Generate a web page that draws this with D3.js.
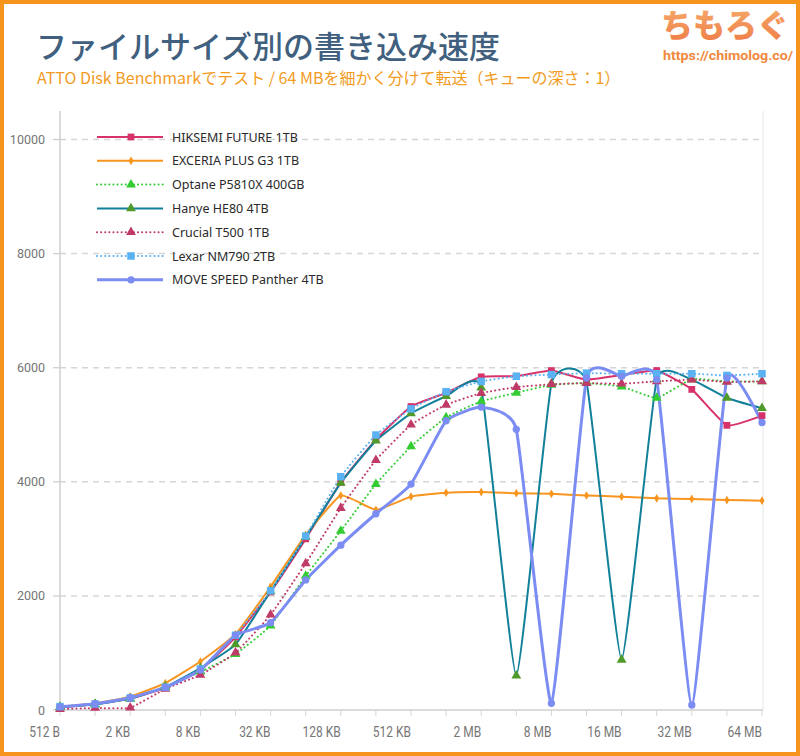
<!DOCTYPE html>
<html><head><meta charset="utf-8">
<script src="https://cdn.jsdelivr.net/npm/d3@7"></script>
<style>body{margin:0;background:#fff}svg{display:block}</style>
</head><body>
<svg id="c" width="800" height="756"></svg>
<script>
const categories = ["512 B","1 KB","2 KB","4 KB","8 KB","16 KB","32 KB","64 KB","128 KB","256 KB","512 KB","1 MB","2 MB","4 MB","8 MB","12 MB","16 MB","24 MB","32 MB","48 MB","64 MB"];
const tickLabels = ["512 B","2 KB","8 KB","32 KB","128 KB","512 KB","2 MB","8 MB","16 MB","32 MB","64 MB"];
const yTicks = [0,2000,4000,6000,8000,10000];
const seriesNames = ["HIKSEMI FUTURE 1TB","EXCERIA PLUS G3 1TB","Optane P5810X 400GB","Hanye HE80 4TB","Crucial T500 1TB","Lexar NM790 2TB","MOVE SPEED Panther 4TB"];
const hiksemi = [45,100,200,390,700,1280,2070,3000,3990,4740,5320,5560,5840,5850,5950,5790,5870,5950,5620,4990,5160];
const exceria = [60,115,235,470,850,1330,2160,3070,3760,3510,3740,3810,3820,3800,3790,3760,3740,3710,3700,3680,3670];
const optane  = [50,100,200,410,670,980,1480,2350,3140,3960,4620,5130,5410,5560,5700,5730,5670,5470,5800,5760,5760];
const hanye   = [50,100,200,400,735,1150,2080,3030,3980,4720,5200,5500,5650,600,5720,5750,880,5800,5790,5470,5290];
const crucial = [15,35,40,370,615,1005,1670,2570,3540,4380,5000,5350,5555,5660,5710,5730,5720,5760,5790,5750,5760];
const lexar   = [60,105,210,400,720,1310,2090,3050,4090,4820,5280,5580,5760,5850,5880,5905,5895,5895,5895,5865,5895];
const move    = [55,110,215,395,700,1310,1530,2280,2890,3440,3960,5070,5310,4920,117,5820,5850,5790,88,5820,5040];

const seriesValues = [hiksemi, exceria, optane, hanye, crucial, lexar, move];
const styles = [
  {line:"#d7336a", mark:"#d7336a", w:2, dash:null, sym:d3.symbolSquare, size:46},
  {line:"#f7951e", mark:"#f7951e", w:2, dash:null, sym:d3.symbolDiamond, size:22},
  {line:"#33cc33", mark:"#33cc33", w:2, dash:"0.1,4", sym:d3.symbolTriangle, size:42},
  {line:"#12809a", mark:"#4f9a2a", w:2, dash:null, sym:d3.symbolTriangle, size:42},
  {line:"#bf3a66", mark:"#bf3a66", w:2, dash:"0.1,4", sym:d3.symbolTriangle, size:42},
  {line:"#5ab2f2", mark:"#5ab2f2", w:2, dash:"0.1,4", sym:d3.symbolSquare, size:56},
  {line:"#7b8cf2", mark:"#7b8cf2", w:3, dash:null, sym:d3.symbolCircle, size:42}
];

(function(){
const svg = d3.select("#c");
const W = 800, H = 756;
const pLeft = 60, pRight = 762, pTop = 111, pBottom = 710;

svg.append("rect").attr("x",2).attr("y",2).attr("width",W-4).attr("height",H-4)
  .attr("fill","#fff").attr("stroke","#f7941d").attr("stroke-width",4);

// Title
svg.append("text").attr("x",36).attr("y",58)
  .attr("font-family","'Noto Sans CJK JP'").attr("font-weight",500)
  .attr("font-size",31).attr("fill","#415f7e")
  .text("ファイルサイズ別の書き込み速度");
svg.append("text").attr("x",37).attr("y",84)
  .attr("font-family","'Noto Sans CJK JP'").attr("font-size",16).attr("fill","#f29b1f")
  .text("ATTO Disk Benchmarkでテスト / 64 MBを細かく分けて転送（キューの深さ：1）");

// Logo
const grad = svg.append("defs").append("linearGradient").attr("id","lg").attr("x1",0).attr("y1",0).attr("x2",0).attr("y2",1);
grad.append("stop").attr("offset","0%").attr("stop-color","#f7b070");
grad.append("stop").attr("offset","100%").attr("stop-color","#ee7a45");
svg.append("text").attr("x",725).attr("y",37).attr("text-anchor","middle")
  .attr("font-family","'Noto Sans CJK JP'").attr("font-weight",900).attr("font-size",32)
  .attr("fill","url(#lg)").text("ちもろぐ");
svg.append("text").attr("x",663).attr("y",60)
  .attr("font-family","Roboto").attr("font-weight",700).attr("font-size",13.5)
  .attr("textLength",130).attr("lengthAdjust","spacingAndGlyphs")
  .attr("fill","#f0883e").text("https://chimolog.co/");

const x = d3.scalePoint().domain(categories).range([pLeft, pRight]);
const y = d3.scaleLinear().domain([0, 10500]).range([pBottom, pTop]);

// grid
const g = svg.append("g");
g.selectAll("line.grid").data(yTicks.filter(d=>d>0)).join("line")
  .attr("x1",pLeft).attr("x2",pRight).attr("y1",d=>y(d)).attr("y2",d=>y(d))
  .attr("stroke","#d6d6d6").attr("stroke-width",1.5).attr("stroke-dasharray","6,5");
g.selectAll("line.yt").data(yTicks).join("line")
  .attr("x1",pLeft-7).attr("x2",pLeft).attr("y1",d=>y(d)).attr("y2",d=>y(d))
  .attr("stroke","#cccccc").attr("stroke-width",1.2);
g.selectAll("text.yl").data(yTicks).join("text")
  .attr("x",45).attr("y",d=>y(d)+4.5).attr("text-anchor","end")
  .attr("font-family","Roboto").attr("font-size",12.5).attr("fill","#757575")
  .text(d=>d);
g.append("line").attr("x1",pLeft).attr("x2",pLeft).attr("y1",pTop).attr("y2",pBottom).attr("stroke","#cfcfcf").attr("stroke-width",1.5);
g.append("line").attr("x1",pRight+1).attr("x2",pRight+1).attr("y1",pTop).attr("y2",pBottom).attr("stroke","#e6e6e6").attr("stroke-width",1);
g.append("line").attr("x1",pLeft).attr("x2",pRight+1).attr("y1",pBottom).attr("y2",pBottom).attr("stroke","#cfcfcf").attr("stroke-width",1.5);
g.selectAll("line.xt").data(categories).join("line")
  .attr("x1",d=>x(d)).attr("x2",d=>x(d)).attr("y1",pBottom).attr("y2",pBottom+6)
  .attr("stroke","#d6d6d6").attr("stroke-width",1);
g.selectAll("g.xl").data(tickLabels).join("g")
  .attr("transform",d=>`translate(${x(d)},737) scale(0.8,1)`)
  .append("text").attr("text-anchor","end")
  .attr("font-family","Roboto").attr("font-size",15).attr("fill","#767676")
  .text(d=>d);

// lines
const line = d3.line().x((d,i)=>x(categories[i])).y(d=>y(d)).curve(d3.curveCardinal.tension(0.6));
const lg = svg.append("g");
seriesValues.forEach((vals,k)=>{
  const s = styles[k];
  lg.append("path").attr("d",line(vals)).attr("fill","none")
    .attr("stroke",s.line).attr("stroke-width",s.w)
    .attr("stroke-dasharray",s.dash).attr("stroke-linecap", s.dash ? "round" : "butt");
});
const mg = svg.append("g");
seriesValues.forEach((vals,k)=>{
  const s = styles[k];
  const sym = d3.symbol().type(s.sym).size(s.size);
  mg.selectAll(null).data(vals).join("path")
    .attr("transform",(d,i)=>`translate(${x(categories[i])},${y(d)})`)
    .attr("d",sym()).attr("fill",s.mark);
});

// legend
const leg = svg.append("g");
seriesNames.forEach((name,k)=>{
  const s = styles[k];
  const yy = 137 + k*23.8;
  leg.append("line").attr("x1",97).attr("x2",163).attr("y1",yy).attr("y2",yy)
    .attr("stroke",s.line).attr("stroke-width",s.w)
    .attr("stroke-dasharray",s.dash).attr("stroke-linecap", s.dash ? "round" : "butt");
  leg.append("path").attr("transform",`translate(131,${yy})`)
    .attr("d",d3.symbol().type(s.sym).size(s.size)()).attr("fill",s.mark);
  leg.append("text").attr("x",172).attr("y",yy+4.5)
    .attr("font-family","'Noto Sans'").attr("font-size",12.5).attr("fill","#2a2a2a")
    .text(name);
});
})();
</script>
</body></html>
